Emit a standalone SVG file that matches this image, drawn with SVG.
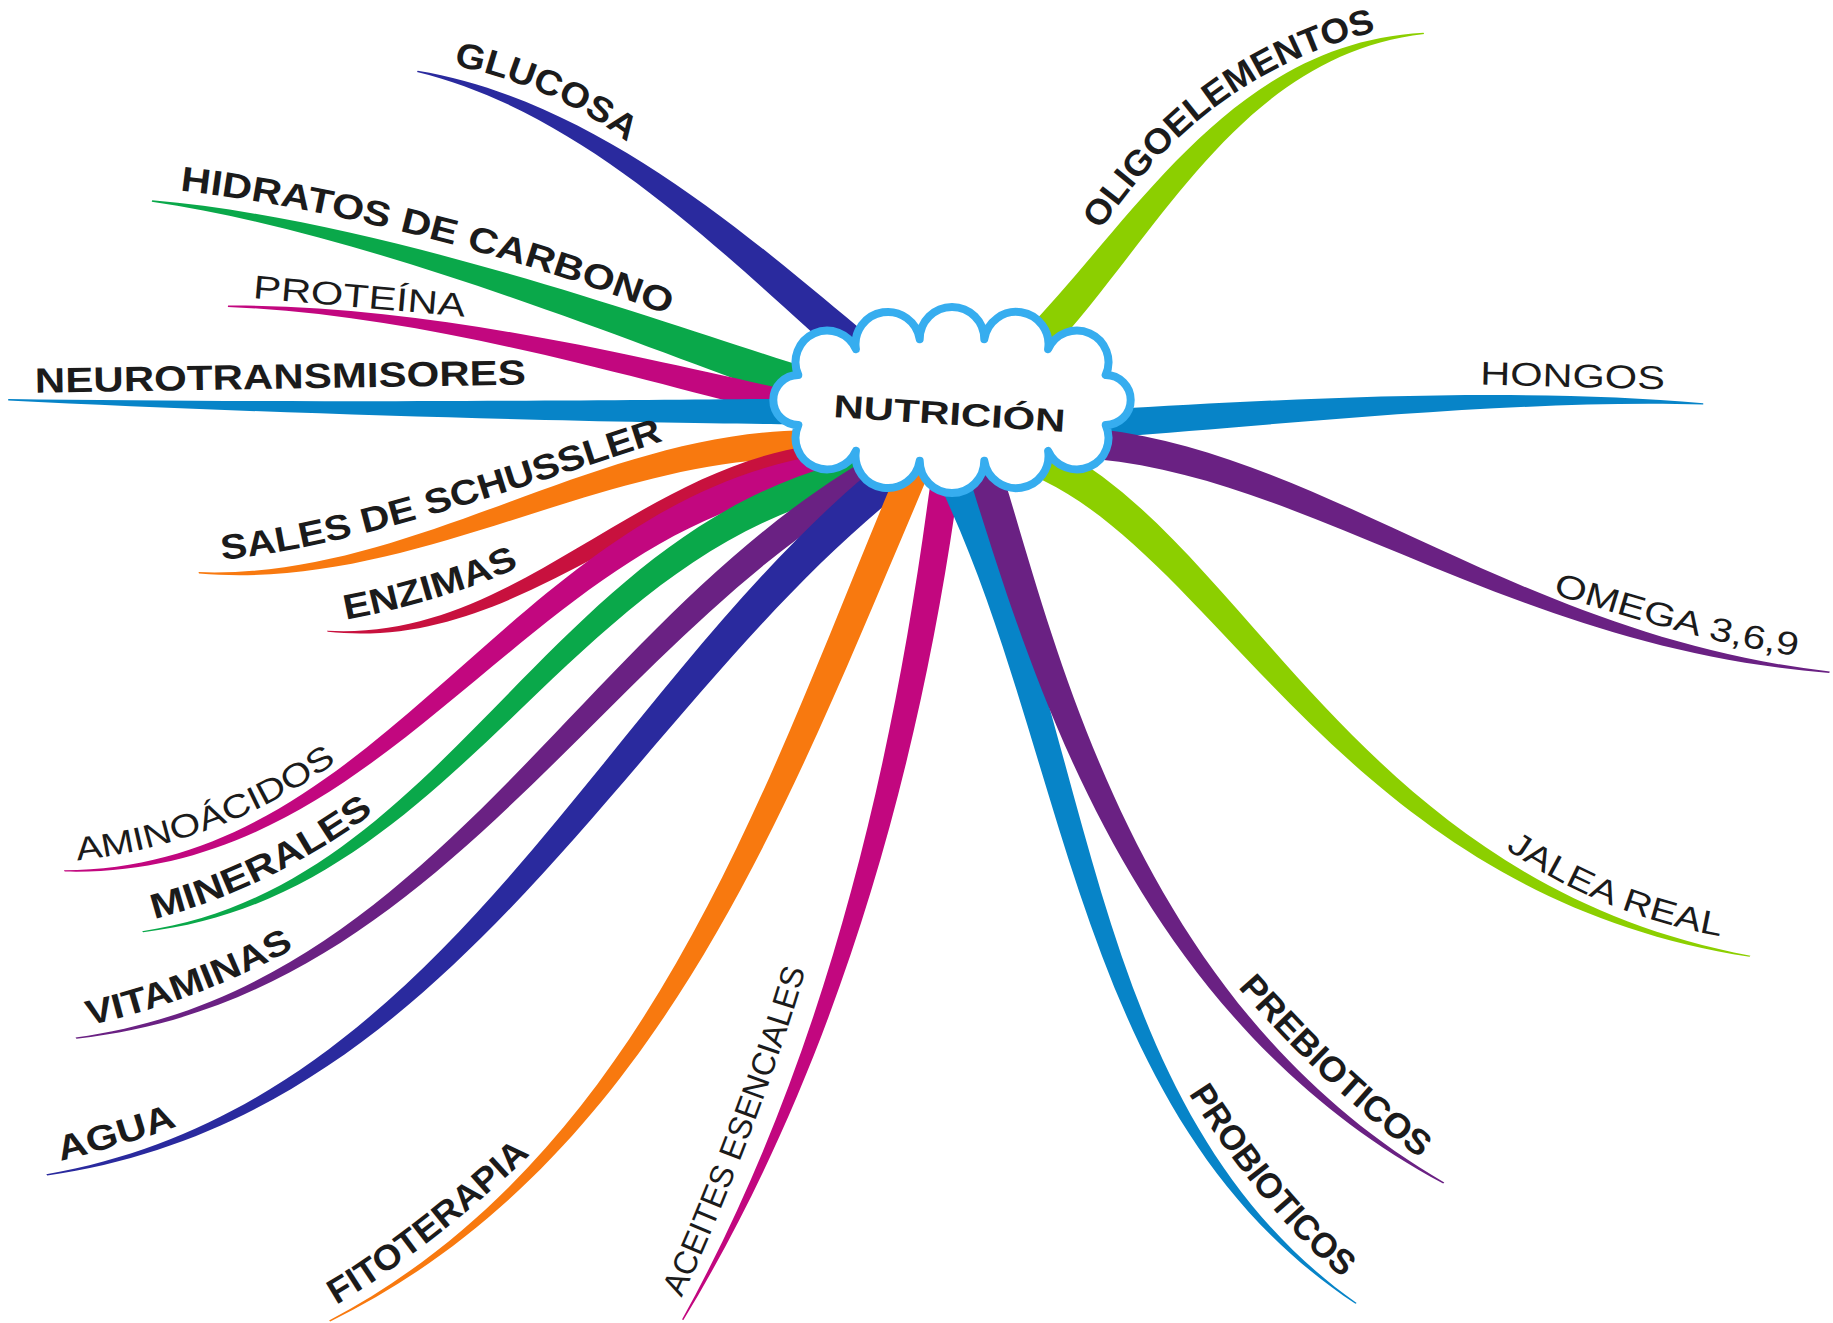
<svg xmlns="http://www.w3.org/2000/svg" width="1833" height="1323" viewBox="0 0 1833 1323">
<defs>
<style>
.b{font-family:"Liberation Sans",Arial,sans-serif;font-weight:700;font-size:30px;fill:#1b1b1b}
.r{font-family:"Liberation Sans",Arial,sans-serif;font-weight:400;font-size:28px;fill:#1b1b1b}
.c{font-family:"Liberation Sans",Arial,sans-serif;font-weight:700;font-size:32px;fill:#1b1b1b}
.navy{fill:#2a2a9e}.green{fill:#0aa84a}.mag{fill:#c2077f}.blue{fill:#0784c8}.orange{fill:#f8790f}.crim{fill:#c8113e}.purple{fill:#6a2183}.lime{fill:#8ccf00}
</style>
<path id="p-glucosa" d="M388,56 C430,64 490,85 537,122"/>
<path id="p-hidratos" d="M154,163 C260,175 420,210 578,272"/>
<path id="p-proteina" d="M216,255 L399,271"/>
<path id="p-neuro" d="M30,336 L451,329"/>
<path id="p-sales" d="M190,479 C310,466 440,418 574,375"/>
<path id="p-enzimas" d="M296,530 C340,522 400,506 446,484"/>
<path id="p-amino" d="M66,736 C150,727 230,695 293,648"/>
<path id="p-minerales" d="M132,786 C192,771 264,738 326,690"/>
<path id="p-vitaminas" d="M76,877 C130,866 200,840 254,810"/>
<path id="p-agua" d="M52,993 C85,985 120,975 152,963"/>
<path id="p-fito" d="M288,1116 C330,1092 400,1040 455,986"/>
<path id="p-aceites" d="M583,1110 C613,1050 670,901 690,826"/>
<path id="p-oligo" d="M941,197 C975,150 1040,60 1181,26"/>
<path id="p-hongos" d="M1266,329 L1424,333"/>
<path id="p-omega" d="M1328,508 C1400,530 1470,552 1542,562"/>
<path id="p-jalea" d="M1288,726 C1340,762 1402,789 1478,802"/>
<path id="p-prebio" d="M1059,845 C1090,880 1142,937 1216,992"/>
<path id="p-probio" d="M1017,936 C1040,972 1086,1042 1151,1095"/>
</defs>
<rect width="1833" height="1323" fill="#ffffff"/>
<g transform="scale(1.16901)">
<g id="connectors">
<path class="navy" d="M814,342 L779.1,317.5 L744.7,288.5 C649.2,210.1 513.3,86.1 357.3,60.5 L356.7,61.5 C506.7,97.9 630.8,229.9 725.3,311.5 L759.7,340.5 Z"/>
<path class="green" d="M814,342 L737.4,329.3 L694.5,315.7 C584.7,282.4 331.8,188.5 130.2,171.4 L129.8,172.6 C328.2,201.5 575.3,307.6 685.5,344.3 L728.4,357.9 Z"/>
<path class="mag" d="M814,342 L736.4,346.4 L692.3,337.2 C582.6,315.4 380.8,260.1 195.1,261.4 L194.9,262.6 C379.2,269.9 577.4,334.6 687.7,358.8 L731.8,368 Z"/>
<path class="blue" d="M814,342 L725,341 L680,341 C540,342.1 250.1,345.05 7,341.4 L7,342.6 C249.9,354.95 540,361.9 680,363 L725,363 Z"/>
<path class="orange" d="M814,342 L760,368 L690,368 C506.4,369.8 351.3,495.9 169.8,489.4 L170.2,490.6 C354.7,506.1 513.7,390.2 690,392 L760,392 Z"/>
<path class="crim" d="M814,342 L782.6,368.7 L693.5,381.1 C538.7,404.6 437.5,548.5 279.7,539.5 L280.3,540.5 C441.7,557.5 549.3,421.4 696.5,402.9 L785.6,390.5 Z"/>
<path class="mag" d="M814,342 L792.1,375.9 L703.1,389.1 C435,432.4 327.9,743.4 54.6,744.5 L55.4,745.5 C335.1,752.6 451,449.6 706.9,414.9 L795.9,401.7 Z"/>
<path class="green" d="M814,342 L796.8,375.6 L714.7,397.4 C461.5,467.9 378,758.7 121.6,796.6 L122.4,797.4 C386,767.3 478.5,484.1 721.3,422.6 L803.4,400.8 Z"/>
<path class="purple" d="M814,342 L780.9,367.6 L721.6,404.8 C488.2,553.1 361.3,847.2 64.6,887.5 L65.4,888.5 C367.9,855.8 504.8,566.9 734.4,425.2 L793.7,388 Z"/>
<path class="navy" d="M814,342 L784.1,369.8 L738.3,408.5 C505.9,607.3 374.7,945.8 39.6,1004.5 L40.4,1005.5 C383.3,956.2 528.1,622.7 757.7,431.5 L803.5,392.8 Z"/>
<path class="orange" d="M814,342 L785.1,360.5 L758,425 C649.1,687.8 548.6,988.2 281.5,1129.6 L282.5,1130.4 C557.4,995.8 670.9,696.2 782,435 L809.1,370.5 Z"/>
<path class="mag" d="M814,342 L802.9,364 L793.1,433.3 C760.4,673.8 700,917.9 583.4,1128.8 L584.6,1129.2 C710,922.1 781.6,678.2 816.9,436.7 L826.7,367.4 Z"/>
<path class="blue" d="M814,342 L784.9,371.1 L813.1,435.2 C915.5,664.3 926.8,961.7 1159.5,1115.3 L1160.5,1114.7 C937.2,956.3 938.5,659.7 836.9,424.8 L808.7,360.7 Z"/>
<path class="purple" d="M814,342 L815.9,365.2 L836.6,432.1 C887.9,593.6 975.1,873.9 1234.5,1012.4 L1235.5,1011.6 C984.9,866.1 912.1,586.4 863.4,423.9 L842.7,357 Z"/>
<path class="lime" d="M814,342 L860.6,340.8 L895.1,304.6 C993.4,199.1 1061.6,47.2 1218.3,29 L1217.7,28 C1054.4,36.8 972.6,184.9 874.9,285.4 L840.4,321.6 Z"/>
<path class="blue" d="M814,342 L905.9,377 L950.8,374 C1100.8,362.8 1300.1,341.4 1457,346.1 L1457,344.9 C1299.9,330.6 1099.2,341.2 949.2,350 L904.3,353 Z"/>
<path class="purple" d="M814,342 L878.9,386.6 L938.6,392.9 C1125,410.6 1297.8,555.4 1564.8,575.6 L1565.2,574.4 C1302.2,544.6 1135,389.4 941.4,367.1 L881.7,360.8 Z"/>
<path class="lime" d="M814,342 L848.7,388.6 L893.2,411.4 C1049,487.9 1155.9,765.3 1496.6,818.5 L1497.4,817.5 C1164.1,754.7 1071,472.1 906.8,384.7 L862.3,361.9 Z"/>
</g>
<g id="node-glucosa"><text class="b"><textPath href="#p-glucosa" textLength="164" lengthAdjust="spacingAndGlyphs">GLUCOSA</textPath></text></g>
<g id="node-hidratos"><text class="b"><textPath href="#p-hidratos" textLength="432" lengthAdjust="spacingAndGlyphs">HIDRATOS DE CARBONO</textPath></text></g>
<g id="node-proteina"><text class="r"><textPath href="#p-proteina" textLength="182" lengthAdjust="spacingAndGlyphs">PROTEÍNA</textPath></text></g>
<g id="node-neuro"><text class="b"><textPath href="#p-neuro" textLength="420" lengthAdjust="spacingAndGlyphs">NEUROTRANSMISORES</textPath></text></g>
<g id="node-sales"><text class="b"><textPath href="#p-sales" textLength="392" lengthAdjust="spacingAndGlyphs">SALES DE SCHUSSLER</textPath></text></g>
<g id="node-enzimas"><text class="b"><textPath href="#p-enzimas" textLength="155" lengthAdjust="spacingAndGlyphs">ENZIMAS</textPath></text></g>
<g id="node-amino"><text class="r"><textPath href="#p-amino" textLength="240" lengthAdjust="spacingAndGlyphs">AMINOÁCIDOS</textPath></text></g>
<g id="node-minerales"><text class="b"><textPath href="#p-minerales" textLength="210" lengthAdjust="spacingAndGlyphs">MINERALES</textPath></text></g>
<g id="node-vitaminas"><text class="b"><textPath href="#p-vitaminas" textLength="188" lengthAdjust="spacingAndGlyphs">VITAMINAS</textPath></text></g>
<g id="node-agua"><text class="b"><textPath href="#p-agua" textLength="104" lengthAdjust="spacingAndGlyphs">AGUA</textPath></text></g>
<g id="node-fito"><text class="b"><textPath href="#p-fito" textLength="210" lengthAdjust="spacingAndGlyphs">FITOTERAPIA</textPath></text></g>
<g id="node-aceites"><text class="r"><textPath href="#p-aceites" textLength="300" lengthAdjust="spacingAndGlyphs">ACEITES ESENCIALES</textPath></text></g>
<g id="node-oligo"><text class="b"><textPath href="#p-oligo" textLength="298" lengthAdjust="spacingAndGlyphs">OLIGOELEMENTOS</textPath></text></g>
<g id="node-hongos"><text class="r"><textPath href="#p-hongos" textLength="158" lengthAdjust="spacingAndGlyphs">HONGOS</textPath></text></g>
<g id="node-omega"><text class="r"><textPath href="#p-omega" textLength="216" lengthAdjust="spacingAndGlyphs">OMEGA 3,6,9</textPath></text></g>
<g id="node-jalea"><text class="r"><textPath href="#p-jalea" textLength="200" lengthAdjust="spacingAndGlyphs">JALEA REAL</textPath></text></g>
<g id="node-prebio"><text class="b"><textPath href="#p-prebio" textLength="214" lengthAdjust="spacingAndGlyphs">PREBIOTICOS</textPath></text></g>
<g id="node-probio"><text class="b"><textPath href="#p-probio" textLength="206" lengthAdjust="spacingAndGlyphs">PROBIOTICOS</textPath></text></g>
</g>
<g id="node-nutricion">
<path d="M1105.7,375 A1,1 0 0 1 1105.7,425 A1,1 0 0 1 1048.1,450.8 A1,1 0 0 1 984.3,460.8 A1,1 0 0 1 919.7,460.8 A1,1 0 0 1 855.9,450.8 A1,1 0 0 1 798.3,425 A1,1 0 0 1 798.3,375 A1,1 0 0 1 855.9,349.2 A1,1 0 0 1 919.7,339.2 A1,1 0 0 1 984.3,339.2 A1,1 0 0 1 1048.1,349.2 A1,1 0 0 1 1105.7,375 Z" fill="#ffffff" stroke="#36adef" stroke-width="8" stroke-linejoin="round"/>
<text class="c" x="833" y="417" transform="rotate(3.7 833 417)" textLength="232" lengthAdjust="spacingAndGlyphs">NUTRICIÓN</text>
</g>
</svg>
